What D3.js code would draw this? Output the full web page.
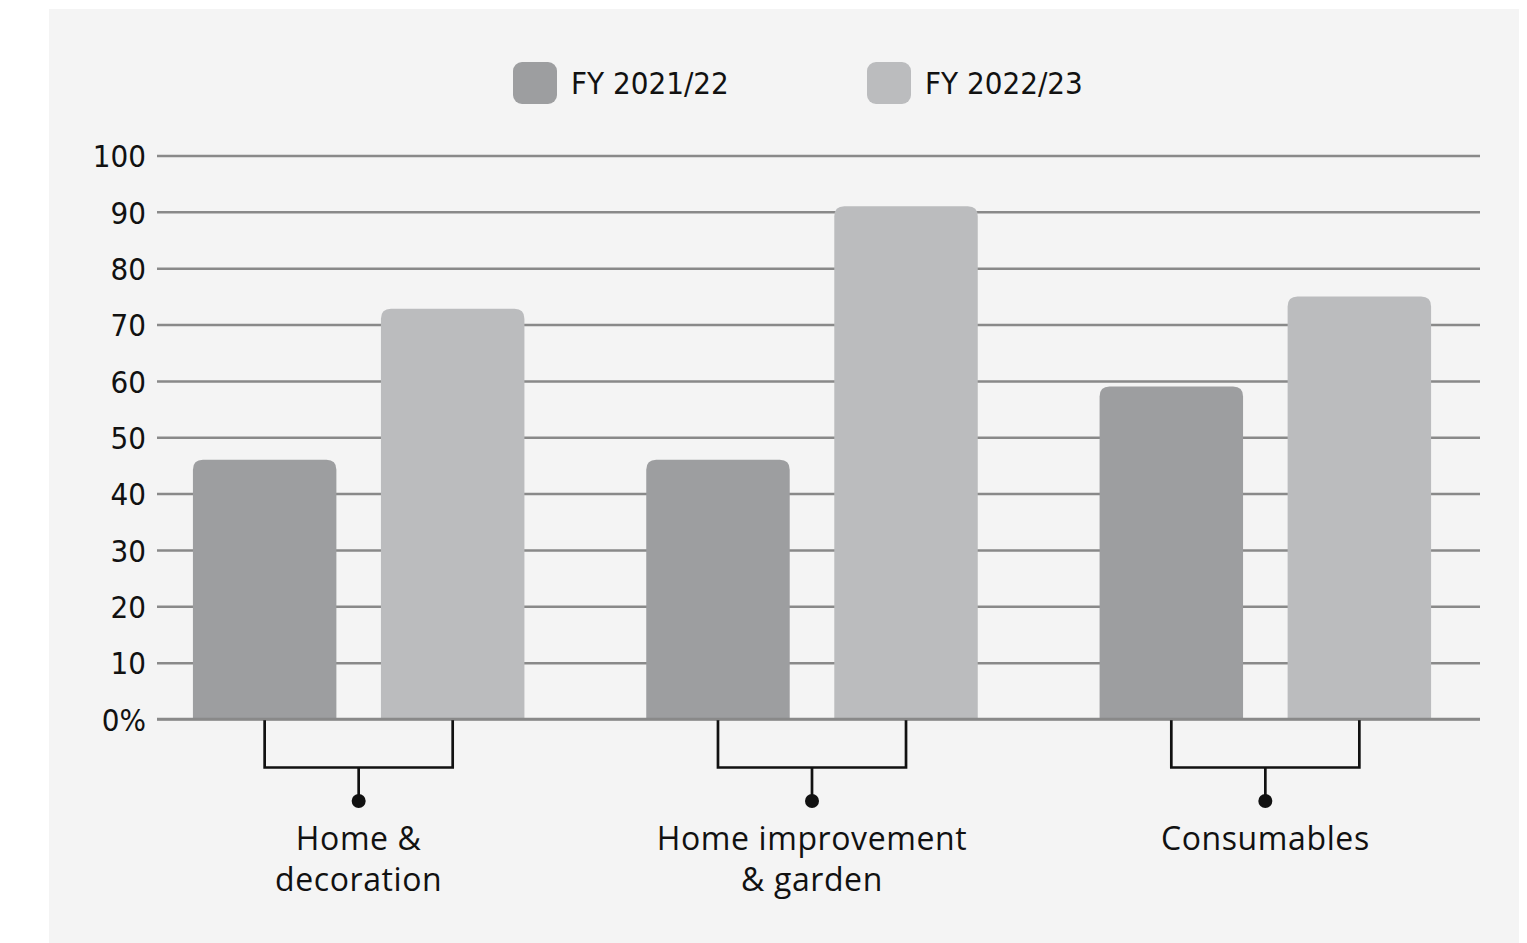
<!DOCTYPE html>
<html>
<head>
<meta charset="utf-8">
<script src="https://cdn.jsdelivr.net/npm/d3@7"></script>
<style>
  html, body { margin: 0; padding: 0; background: #ffffff; }
  svg { display: block; }
</style>
</head>
<body>
<svg id="chart" width="1527" height="943"></svg>
<script>
const categories = ["Home & decoration", "Home improvement & garden", "Consumables"];
const categoryLines = [["Home &", "decoration"], ["Home improvement", "& garden"], ["Consumables"]];
const seriesNames = ["FY 2021/22", "FY 2022/23"];
const fy2122 = [46, 46, 59];
const fy2223 = [72.8, 91, 75];
const tickValues = [0, 10, 20, 30, 40, 50, 60, 70, 80, 90, 100];
const tickLabels = ["0%", "10", "20", "30", "40", "50", "60", "70", "80", "90", "100"];
const colors = ["#9d9ea0", "#bbbcbe"];

const svg = d3.select("#chart");
const W = 1527, H = 943;

// panel background
svg.append("rect").attr("x", 49).attr("y", 9).attr("width", 1470).attr("height", H - 9).attr("fill", "#f4f4f4");

const y = d3.scaleLinear().domain([0, 100]).range([719, 155.5]);
const gridX0 = 157, gridX1 = 1480;

const x0 = d3.scaleBand().domain(categories).range([132, 1492]).paddingInner(0).paddingOuter(0);
const x1 = d3.scaleBand().domain(seriesNames).range([-165.75, 165.75]).paddingInner(0.237).paddingOuter(0);

// gridlines
const yAxis = d3.axisLeft(y).tickValues(tickValues).tickFormat((d, i) => tickLabels[i]).tickSize(0).tickPadding(11);
const gAxis = svg.append("g").attr("transform", `translate(${gridX0},0)`).call(yAxis);
gAxis.select(".domain").remove();
gAxis.selectAll(".tick line")
  .attr("x2", gridX1 - gridX0)
  .attr("stroke", "#898989")
  .attr("stroke-width", 2.5);
gAxis.selectAll(".tick text")
  .attr("font-family", "'DejaVu Sans Condensed', 'DejaVu Sans', sans-serif")
  .attr("font-stretch", "condensed")
  .attr("font-size", 31)
  .attr("fill", "#111")
  .attr("dy", "0.36em");

// bars
const data = categories.map((c, i) => ({ cat: c, vals: [fy2122[i], fy2223[i]] }));
const r = 10;
function barPath(xl, w, yt, yb) {
  return `M${xl},${yb} L${xl},${yt + r} Q${xl},${yt} ${xl + r},${yt} L${xl + w - r},${yt} Q${xl + w},${yt} ${xl + w},${yt + r} L${xl + w},${yb} Z`;
}
const groups = svg.append("g").selectAll("g").data(data).join("g")
  .attr("transform", d => `translate(${x0(d.cat) + x0.bandwidth() / 2},0)`);

groups.selectAll("path.bar").data(d => d.vals.map((v, j) => ({ s: seriesNames[j], v, j })))
  .join("path").attr("class", "bar")
  .attr("d", d => barPath(x1(d.s), x1.bandwidth(), y(d.v), y(0) - 1))
  .attr("fill", d => colors[d.j]);

// redraw baseline over bars
svg.append("line").attr("x1", gridX0).attr("x2", gridX1).attr("y1", y(0)).attr("y2", y(0))
  .attr("stroke", "#898989").attr("stroke-width", 2.5);

// brackets
const bTop = 720, bMid = 767.5, bDot = 801;
groups.each(function () {
  const g = d3.select(this);
  const a = x1(seriesNames[0]) + x1.bandwidth() / 2;
  const b = x1(seriesNames[1]) + x1.bandwidth() / 2;
  g.append("path")
    .attr("d", `M${a},${bTop} L${a},${bMid} L${b},${bMid} L${b},${bTop}`)
    .attr("fill", "none").attr("stroke", "#111").attr("stroke-width", 2.7);
  g.append("line").attr("x1", (a + b) / 2).attr("x2", (a + b) / 2).attr("y1", bMid).attr("y2", bDot)
    .attr("stroke", "#111").attr("stroke-width", 2.7);
  g.append("circle").attr("cx", (a + b) / 2).attr("cy", bDot).attr("r", 7).attr("fill", "#111");
});

// category labels
groups.append("text")
  .attr("text-anchor", "middle")
  .attr("font-family", "'Open Sans', sans-serif")
  .attr("font-size", 32)
  .attr("letter-spacing", 0.6)
  .attr("fill", "#111")
  .selectAll("tspan").data((d, i) => categoryLines[i])
  .join("tspan").attr("x", 0).attr("y", (d, k) => 850 + k * 41).text(d => d);

// legend
const legendX = [513, 867];
const lg = svg.append("g").selectAll("g").data(seriesNames).join("g")
  .attr("transform", (d, i) => `translate(${legendX[i]},62)`);
lg.append("rect").attr("width", 44).attr("height", 42).attr("rx", 9).attr("fill", (d, i) => colors[i]);
lg.append("text").attr("x", 58).attr("y", 21).attr("dy", "0.36em")
  .attr("font-family", "'DejaVu Sans Condensed', 'DejaVu Sans', sans-serif")
  .attr("font-stretch", "condensed")
  .attr("font-size", 31).attr("fill", "#111").text(d => d);
</script>
</body>
</html>
